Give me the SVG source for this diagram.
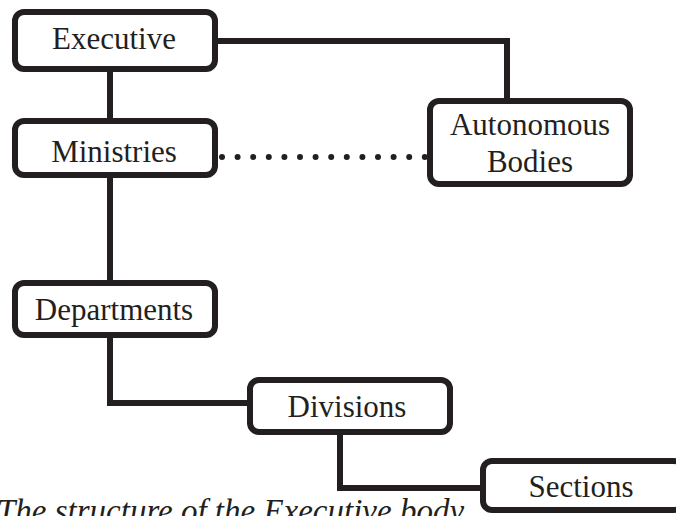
<svg xmlns="http://www.w3.org/2000/svg" width="676" height="516" viewBox="0 0 676 516">
<style>
.box{fill:#fff;stroke:#231f20;stroke-width:6}
.lbl{font-family:'Liberation Serif','DejaVu Serif',serif;font-size:31px;fill:#231f20;text-anchor:middle}
.con{fill:none;stroke:#231f20;stroke-width:6}
.dot{fill:none;stroke:#231f20;stroke-width:6;stroke-linecap:round;stroke-dasharray:0 15.6}
.cap{font-family:'Liberation Serif','DejaVu Serif',serif;font-size:33px;font-style:italic;fill:#231f20}
</style>
<rect width="676" height="516" fill="#fff"/>
<g id="connectors">
<path class="con" d="M215 41 H507 V101"/>
<path class="con" d="M110 69 V121"/>
<path class="con" d="M110 175 V283"/>
<path class="con" d="M110 335 V403 H250"/>
<path class="con" d="M340 432 V488 H483"/>
<path class="dot" d="M222 157 H426"/>
</g>
<g id="executive"><rect class="box" x="15" y="12" width="200" height="57" rx="9"/><text class="lbl" x="114" y="49">Executive</text></g>
<g id="ministries"><rect class="box" x="15" y="121" width="200" height="54" rx="9"/><text class="lbl" x="114" y="162">Ministries</text></g>
<g id="autonomous"><rect class="box" x="430" y="101" width="200" height="83" rx="9"/><text class="lbl" x="530" y="135">Autonomous</text><text class="lbl" x="530" y="172">Bodies</text></g>
<g id="departments"><rect class="box" x="15" y="283" width="200" height="52" rx="9"/><text class="lbl" x="114" y="320">Departments</text></g>
<g id="divisions"><rect class="box" x="250" y="380" width="200" height="52" rx="9"/><text class="lbl" x="347" y="417">Divisions</text></g>
<g id="sections"><rect class="box" x="483" y="461" width="200" height="49" rx="9"/><text class="lbl" x="581" y="497">Sections</text></g>
<text class="cap" x="-3" y="522">The structure of the Executive body</text>
</svg>
